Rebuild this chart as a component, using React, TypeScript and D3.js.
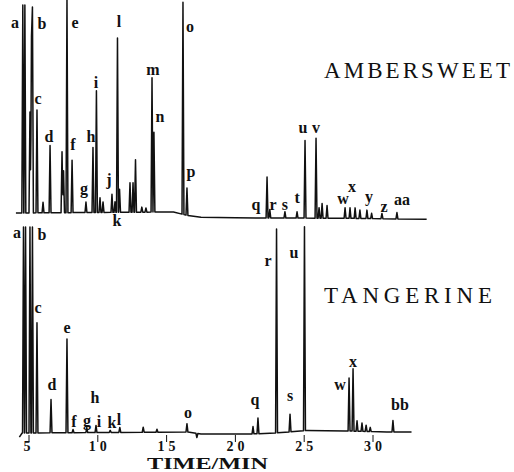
import React, { useEffect, useRef } from "react";
import * as d3 from "d3";

// retention time axis
const tickValues = [5, 10, 15, 20, 25, 30];

// Ambersweet trace: peaks [time (min), height above baseline (% full scale)]
const topPeaks: [number, number][] = [
  [4.55, 99], [4.7, 99], [5.07, 48], [5.18, 84], [5.25, 98], [5.58, 49],
  [6.02, 5], [6.53, 32], [7.4, 29], [7.51, 20], [7.76, 102], [8.13, 25],
  [9.14, 5], [9.65, 31], [9.9, 58], [10.16, 7], [10.38, 5], [11.03, 8.6],
  [11.25, 5], [11.43, 83], [11.58, 11], [12.34, 14], [12.56, 14], [12.74, 25],
  [13.2, 2.4], [13.5, 2], [13.94, 64], [14.08, 38], [16.19, 101], [16.48, 13],
  [22.3, 19.5], [22.5, 4], [23.6, 3], [24.48, 3], [25.06, 37], [25.86, 38],
  [26.08, 5], [26.3, 7], [26.66, 6], [27.97, 5], [28.33, 5], [28.7, 5],
  [29.05, 4], [29.56, 4], [29.9, 2.5], [30.65, 2.5], [31.74, 3],
];
const topBaseline: [number, number][] = [
  [4.05, 0], [15.5, 0.5], [16.4, -1], [17.5, -2], [20, -2.3], [28, -2.5], [33.9, -3],
];
// peak letters: [text, time, level]
const topLabels: [string, number, number][] = [
  ["a", 3.98, 88], ["b", 5.94, 87.6], ["e", 8.34, 88], ["l", 11.54, 88.6],
  ["i", 9.87, 59.5], ["c", 5.65, 51.9], ["m", 14.01, 65.7], ["n", 14.52, 43.3],
  ["d", 6.45, 33.8], ["h", 9.51, 33.8], ["f", 8.2, 30], ["j", 10.81, 13.3],
  ["g", 9.0, 9], ["k", 11.4, -6.2], ["o", 16.7, 86.2], ["p", 16.77, 17.1],
  ["q", 21.5, 1.4], ["r", 22.73, 1.4], ["s", 23.6, 1.4], ["t", 24.48, 4.8],
  ["u", 24.91, 38.1], ["v", 25.86, 38.1], ["w", 27.82, 4.3], ["x", 28.47, 10],
  ["y", 29.71, 5.2], ["z", 30.8, 0.5], ["aa", 32.1, 3.8],
];

// Tangerine trace
const bottomPeaks: [number, number][] = [
  [4.6, 99], [4.75, 99], [5.07, 99], [5.25, 99], [5.58, 53], [6.6, 16],
  [7.76, 45], [8.2, 1.5], [9.2, 2.4], [9.87, 3.4], [10.9, 1], [11.6, 2.4],
  [13.3, 2.4], [14.3, 1.4], [16.48, 4], [17.2, -2], [21.28, 3.5], [21.64, 7.5],
  [22.99, 98], [23.97, 8.5], [25.02, 98], [28.26, 25.5], [28.55, 30],
  [28.84, 5], [29.2, 4], [29.5, 3], [29.8, 2], [31.45, 5.5],
];
const bottomBaseline: [number, number][] = [
  [4.3, -2], [4.5, 0], [16.5, 0.5], [17.5, -0.5], [21, -0.5], [22.9, 0],
  [25.2, 1.2], [28, 1], [31, 0.5], [32.8, 0.5],
];
const bottomLabels: [string, number, number][] = [
  ["a", 4.13, 93.7], ["b", 5.94, 92.8], ["c", 5.65, 57.7], ["e", 7.76, 48.1],
  ["d", 6.67, 20.7], ["h", 9.8, 14.4], ["f", 8.27, 2.9], ["g", 9.22, 3.4],
  ["i", 10.09, 2.9], ["k", 11.03, 2.4], ["l", 11.54, 3.8], ["o", 16.56, 7.2],
  ["q", 21.42, 13.5], ["r", 22.37, 80.3], ["u", 24.26, 84.1], ["s", 23.97, 15.4],
  ["w", 27.6, 20.7], ["x", 28.55, 31.7], ["bb", 31.96, 11.1],
];

const serif = "'Liberation Serif', 'DejaVu Serif', serif";

const App = () => {
  const svgRef = useRef<SVGSVGElement>(null);

  useEffect(() => {
    document.body.style.margin = "0";
    const svg = d3.select(svgRef.current);
    svg.selectAll("*").remove();

    const width = 514;
    const height = 472;
    svg.attr("width", width).attr("height", height);

    const xScale = d3.scaleLinear().domain([5, 30]).range([29, 373]);
    const halfWidth = 0.07; // peak half width in minutes

    const drawTrace = (
      peaks: [number, number][],
      baseline: [number, number][],
      labels: [string, number, number][],
      yScale: d3.ScaleLinear<number, number>
    ) => {
      const base = d3
        .scaleLinear()
        .domain(baseline.map((d) => d[0]))
        .range(baseline.map((d) => d[1]));
      const t0 = baseline[0][0];
      const t1 = baseline[baseline.length - 1][0];

      // vertices where the trace bends
      const times = baseline.map((d) => d[0]);
      peaks.forEach(([t]) => times.push(t - halfWidth, t, t + halfWidth));
      const sorted = Array.from(new Set(times.filter((t) => t >= t0 && t <= t1))).sort((a, b) => a - b);

      const signal = (t: number) => {
        let v = base(t);
        for (const [tp, h] of peaks) {
          const k = 1 - Math.abs(t - tp) / halfWidth;
          if (k > 0) v += h * k;
        }
        return v;
      };

      const line = d3
        .line<number>()
        .x((t) => xScale(t))
        .y((t) => yScale(signal(t)));

      svg
        .append("path")
        .datum(sorted)
        .attr("d", line)
        .style("fill", "none")
        .style("stroke", "#111")
        .style("stroke-width", 1.5)
        .style("stroke-linejoin", "round");

      svg
        .append("g")
        .selectAll("text")
        .data(labels)
        .join("text")
        .attr("x", (d) => xScale(d[1]))
        .attr("y", (d) => yScale(d[2]))
        .attr("text-anchor", "middle")
        .style("font-family", serif)
        .style("font-weight", "bold")
        .style("font-size", "16px")
        .style("fill", "#111")
        .text((d) => d[0]);
    };

    const yTop = d3.scaleLinear().domain([0, 100]).range([213, 3]);
    const yBottom = d3.scaleLinear().domain([0, 100]).range([433, 225]);

    drawTrace(topPeaks, topBaseline, topLabels, yTop);
    drawTrace(bottomPeaks, bottomBaseline, bottomLabels, yBottom);

    // time axis ticks
    const axis = svg.append("g");
    axis
      .selectAll("line")
      .data(tickValues)
      .join("line")
      .attr("x1", (d) => xScale(d))
      .attr("x2", (d) => xScale(d))
      .attr("y1", 435)
      .attr("y2", 442)
      .style("stroke", "#111")
      .style("stroke-width", 1);
    axis
      .selectAll("text")
      .data(tickValues)
      .join("text")
      .attr("x", (d) => xScale(d) + (d >= 10 ? 2 : 0))
      .attr("y", 451)
      .attr("text-anchor", "middle")
      .style("font-family", serif)
      .style("font-weight", "bold")
      .style("font-size", "14px")
      .style("letter-spacing", "4px")
      .style("fill", "#111")
      .text((d) => String(d));

    svg
      .append("text")
      .attr("x", 147)
      .attr("y", 469)
      .attr("textLength", 121)
      .attr("lengthAdjust", "spacingAndGlyphs")
      .style("font-family", serif)
      .style("font-weight", "bold")
      .style("font-size", "16px")
      .style("fill", "#111")
      .text("TIME/MIN");

    // sample names
    svg
      .append("text")
      .attr("x", 324)
      .attr("y", 78)
      .attr("textLength", 186)
      .attr("lengthAdjust", "spacing")
      .style("font-family", serif)
      .style("font-size", "23px")
      .style("fill", "#111")
      .text("AMBERSWEET");

    svg
      .append("text")
      .attr("x", 324)
      .attr("y", 303)
      .attr("textLength", 168)
      .attr("lengthAdjust", "spacing")
      .style("font-family", serif)
      .style("font-size", "23px")
      .style("fill", "#111")
      .text("TANGERINE");
  }, []);

  return (
    <div style={{ position: "absolute", left: 0, top: 0, background: "#fff" }}>
      <svg ref={svgRef} style={{ display: "block" }}></svg>
    </div>
  );
};

export default App;
